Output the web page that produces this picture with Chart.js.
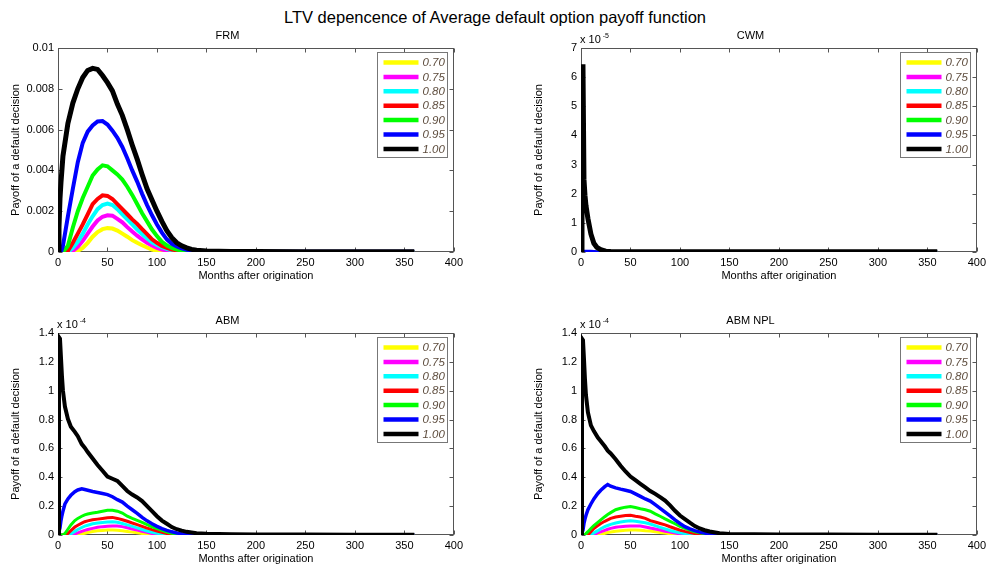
<!DOCTYPE html>
<html lang="en">
<head>
<meta charset="UTF-8">
<title>LTV depencence of Average default option payoff function</title>
<script src="https://cdn.jsdelivr.net/npm/chart.js"></script>
<style>
    body {
        margin: 0;
        width: 990px;
        height: 570px;
        overflow: hidden;
        position: relative;
        background: #fff;
        font-family: "Liberation Sans", Arial, sans-serif;
    }
    #title {
        position: absolute;
        left: 0;
        top: 8px;
        width: 990px;
        text-align: center;
        font-size: 16.5px;
        line-height: 18px;
        color: #000;
    }
    canvas { position: absolute; }
</style>
</head>
<body>
<div id="title">LTV depencence of Average default option payoff function</div>
<canvas id="frm" width="467" height="265" style="left:0;top:20px"></canvas>
<canvas id="cwm" width="467" height="265" style="left:523px;top:20px"></canvas>
<canvas id="abm" width="467" height="263" style="left:0;top:305px"></canvas>
<canvas id="npl" width="467" height="263" style="left:523px;top:305px"></canvas>
<script>
// LTV levels, same order in every panel
const ltvLabels = ['0.70', '0.75', '0.80', '0.85', '0.90', '0.95', '1.00'];
const ltvColors = ['#ffff00', '#ff00ff', '#00ffff', '#ff0000', '#00ff00', '#0000ff', '#000000'];
const xTicks = [0, 50, 100, 150, 200, 250, 300, 350, 400];

// FRM, values in units of 1e-3
const frmMonths = [0,1,2,3,5,10,15,20,25,30,35,40,45,50,55,60,65,70,75,80,85,90,95,100,105,110,115,120,125,130,135,140,150,175,200,250,300,360];
const frm070 = [0,0,0,0,0,0,0,0.05,0.2,0.45,0.75,0.98,1.12,1.17,1.15,1.05,0.9,0.75,0.58,0.45,0.33,0.22,0.12,0.06,0.03,0.01,0,0,0,0,0,0,0,0,0,0,0,0];
const frm075 = [0,0,0,0,0,0,0.05,0.25,0.55,0.9,1.25,1.55,1.73,1.8,1.78,1.62,1.45,1.22,1.0,0.8,0.62,0.45,0.32,0.2,0.12,0.07,0.04,0.02,0.01,0,0,0,0,0,0,0,0,0];
const frm080 = [0,0,0,0,0,0,0.2,0.5,0.9,1.35,1.75,2.1,2.3,2.37,2.3,2.1,1.85,1.6,1.35,1.1,0.88,0.66,0.48,0.35,0.24,0.15,0.09,0.05,0.03,0.02,0.01,0.01,0,0,0,0,0,0];
const frm085 = [0,0,0,0,0,0.05,0.45,0.9,1.35,1.85,2.35,2.6,2.78,2.75,2.6,2.35,2.1,1.85,1.6,1.38,1.12,0.88,0.62,0.45,0.3,0.2,0.12,0.08,0.05,0.03,0.02,0.01,0.01,0,0,0,0,0];
const frm090 = [0,0,0,0,0,0.3,1.2,2.0,2.65,3.2,3.75,4.05,4.25,4.2,4.0,3.8,3.55,3.2,2.8,2.35,1.9,1.5,1.1,0.78,0.5,0.32,0.2,0.12,0.07,0.05,0.03,0.02,0.01,0.01,0,0,0,0];
const frm095 = [0,0,0,0,0.3,1.75,3.1,4.4,5.35,5.9,6.2,6.4,6.42,6.25,5.95,5.6,5.15,4.6,4.0,3.45,2.85,2.3,1.8,1.35,0.95,0.62,0.4,0.27,0.18,0.11,0.07,0.05,0.03,0.02,0.01,0.01,0.01,0.01];
const frm100 = [0,1.2,2.6,3.4,4.7,6.3,7.3,8.0,8.55,8.9,9.0,8.95,8.65,8.3,7.9,7.25,6.7,6.0,5.25,4.55,3.8,3.1,2.55,2.0,1.5,1.05,0.7,0.45,0.3,0.2,0.13,0.09,0.05,0.03,0.02,0.01,0.01,0.01];

// CWM, values in units of 1e-5
const cwmMonths = [0,1,2,3,4,5,7,10,13,16,20,25,30,40,60,100,150,200,250,300,360];
const cwm070 = [0,0,0,0,0,0,0,0,0,0,0,0,0,0,0,0,0,0,0,0,0];
const cwm075 = [0,0,0,0,0,0,0,0,0,0,0,0,0,0,0,0,0,0,0,0,0];
const cwm080 = [0,0,0,0,0,0,0,0,0,0,0,0,0,0,0,0,0,0,0,0,0];
const cwm085 = [0,0,0,0,0,0,0,0,0,0,0,0,0,0,0,0,0,0,0,0,0];
const cwm090 = [0,0,0.01,0.01,0.01,0.01,0.01,0,0,0,0,0,0,0,0,0,0,0,0,0,0];
const cwm095 = [0,0,0.02,0.03,0.03,0.03,0.03,0.03,0.02,0.01,0,0,0,0,0,0,0,0,0,0,0];
const cwm100 = [0,6.36,6.36,2.5,1.95,1.6,1.15,0.62,0.3,0.16,0.08,0.03,0.02,0.01,0.01,0.01,0.01,0.01,0.01,0.01,0.01];

// ABM and ABM NPL, values in units of 1e-5
const abmMonths = [0,1,2,3,4,5,7,10,13,17,20,24,27,30,35,40,45,50,55,60,65,70,75,80,85,90,95,100,105,110,115,120,125,130,140,150,175,200,250,300,360];
const abm070 = [0,0,0,0,0,0,0,0,0,0,0,0.07,0.12,0.17,0.24,0.29,0.32,0.34,0.35,0.33,0.29,0.25,0.2,0.15,0.11,0.07,0.04,0.02,0,0,0,0,0,0,0,0,0,0,0,0,0];
const abm075 = [0,0,0,0,0,0,0,0,0,0.07,0.15,0.25,0.32,0.38,0.46,0.53,0.58,0.6,0.62,0.62,0.58,0.5,0.42,0.34,0.26,0.18,0.11,0.06,0.03,0.01,0,0,0,0,0,0,0,0,0,0,0];
const abm080 = [0,0,0,0,0,0,0,0,0.08,0.25,0.38,0.52,0.62,0.68,0.78,0.83,0.87,0.9,0.92,0.88,0.8,0.7,0.6,0.49,0.38,0.28,0.19,0.12,0.07,0.04,0.02,0.01,0,0,0,0,0,0,0,0,0];
const abm085 = [0,0,0,0,0,0,0,0.1,0.3,0.55,0.68,0.82,0.92,0.98,1.05,1.1,1.15,1.2,1.22,1.15,1.06,0.95,0.83,0.72,0.6,0.48,0.37,0.28,0.18,0.11,0.06,0.03,0.02,0.01,0,0,0,0,0,0,0];
const abm090 = [0,0,0,0,0,0,0.1,0.4,0.7,1.0,1.15,1.3,1.4,1.45,1.52,1.58,1.65,1.72,1.72,1.65,1.52,1.3,1.15,1.02,0.88,0.72,0.56,0.44,0.32,0.2,0.12,0.06,0.03,0.02,0.01,0,0,0,0,0,0];
const abm095 = [0,0,0.5,1.0,1.35,1.65,2.15,2.5,2.75,3.0,3.12,3.2,3.15,3.1,3.02,2.95,2.88,2.8,2.65,2.45,2.28,2.0,1.75,1.5,1.22,0.98,0.78,0.6,0.44,0.32,0.22,0.14,0.09,0.06,0.03,0.02,0.01,0.01,0.01,0.01,0.01];
const abm100 = [0,13.7,13.6,12.3,11.0,10.0,8.9,8.05,7.5,7.15,6.85,6.3,6.05,5.75,5.3,4.85,4.45,4.05,3.9,3.75,3.4,3.05,2.8,2.6,2.35,2.0,1.65,1.3,1.0,0.78,0.55,0.4,0.3,0.22,0.12,0.08,0.05,0.04,0.03,0.02,0.02];

const npl070 = [0,0,0,0,0,0,0,0,0,0,0,0.12,0.17,0.21,0.26,0.3,0.33,0.35,0.35,0.33,0.3,0.28,0.23,0.18,0.13,0.09,0.05,0.02,0,0,0,0,0,0,0,0,0,0,0,0,0];
const npl075 = [0,0,0,0,0,0,0,0,0,0.16,0.22,0.32,0.4,0.46,0.53,0.58,0.61,0.62,0.62,0.62,0.56,0.48,0.42,0.35,0.26,0.2,0.13,0.08,0.04,0.02,0,0,0,0,0,0,0,0,0,0,0];
const npl080 = [0,0,0,0,0,0,0,0,0.15,0.3,0.43,0.58,0.66,0.74,0.83,0.9,0.96,0.99,0.95,0.9,0.85,0.76,0.65,0.53,0.42,0.31,0.22,0.15,0.1,0.05,0.02,0.01,0,0,0,0,0,0,0,0,0];
const npl085 = [0,0,0,0,0,0,0,0.23,0.45,0.65,0.8,0.95,1.05,1.15,1.25,1.3,1.35,1.36,1.3,1.25,1.15,1.0,0.9,0.8,0.7,0.57,0.45,0.34,0.25,0.17,0.1,0.05,0.03,0.02,0.01,0,0,0,0,0,0];
const npl090 = [0,0,0,0,0,0.1,0.23,0.45,0.65,0.88,1.05,1.27,1.42,1.55,1.75,1.85,1.93,1.97,1.9,1.82,1.75,1.65,1.47,1.3,1.12,0.95,0.78,0.6,0.46,0.34,0.22,0.15,0.09,0.05,0.02,0.01,0,0,0,0,0];
const npl095 = [0,0,0.35,0.8,1.1,1.35,1.75,2.15,2.5,2.88,3.1,3.35,3.5,3.38,3.27,3.18,3.1,3.02,2.85,2.68,2.5,2.35,2.1,1.85,1.58,1.32,1.05,0.8,0.58,0.42,0.3,0.2,0.13,0.08,0.04,0.02,0.01,0.01,0.01,0.01,0.01];
const npl100 = [0,13.6,13.5,12.2,10.8,9.7,8.5,7.6,7.2,6.75,6.5,6.15,5.85,5.65,5.25,4.8,4.4,4.05,3.8,3.55,3.3,3.05,2.85,2.62,2.38,2.05,1.68,1.35,1.1,0.85,0.62,0.45,0.33,0.24,0.12,0.07,0.05,0.04,0.03,0.02,0.02];

const FONT = "'Liberation Sans', Arial, Helvetica, sans-serif";
Chart.defaults.font.family = FONT;
Chart.defaults.font.size = 11;
Chart.defaults.color = '#000';

/* box and inward ticks like matlab axes */
const matlabAxes = {
    id: 'matlabAxes',
    beforeDatasetsDraw(chart) {
        const {ctx, chartArea: a, scales: {x, y}} = chart;
        const L = Math.round(a.left) + 0.5, R = Math.round(a.right) - 0.5;
        const T = Math.round(a.top) + 0.5, B = Math.round(a.bottom) - 0.5;
        ctx.save();
        ctx.strokeStyle = '#555';
        ctx.lineWidth = 1;
        ctx.strokeRect(L, T, R - L, B - T);
        ctx.beginPath();
        x.ticks.forEach(t => {
            const px = Math.round(x.getPixelForValue(t.value)) + 0.5;
            ctx.moveTo(px, B); ctx.lineTo(px, B - 4);
            ctx.moveTo(px, T); ctx.lineTo(px, T + 4);
        });
        y.ticks.forEach(t => {
            const py = Math.round(y.getPixelForValue(t.value)) + 0.5;
            ctx.moveTo(L, py); ctx.lineTo(L + 4, py);
            ctx.moveTo(R, py); ctx.lineTo(R - 4, py);
        });
        ctx.stroke();
        ctx.restore();
    }
};

/* legend box inside the axes, top right */
const insideLegend = {
    id: 'insideLegend',
    afterDatasetsDraw(chart) {
        const {ctx, chartArea: a} = chart;
        const w = 70, h = 105;
        const left = Math.round(a.right - 7 - w) + 0.5;
        const top = Math.round(a.top + 4) + 0.5;
        ctx.save();
        ctx.fillStyle = '#fff';
        ctx.fillRect(left, top, w, h);
        ctx.strokeStyle = '#777';
        ctx.lineWidth = 1;
        ctx.strokeRect(left, top, w, h);
        ctx.font = 'italic 11.5px ' + FONT;
        ctx.textBaseline = 'middle';
        chart.data.datasets.forEach((ds, i) => {
            const yy = top + 10 + i * 14.4;
            ctx.strokeStyle = ds.borderColor;
            ctx.lineWidth = 4.5;
            ctx.beginPath();
            ctx.moveTo(left + 6, yy);
            ctx.lineTo(left + 41, yy);
            ctx.stroke();
            ctx.fillStyle = '#5e4d3e';
            ctx.fillText(ds.label, left + 45, yy + 0.5);
        });
        ctx.restore();
    }
};

/* "x 10^n" above the y axis */
const expLabel = {
    id: 'expLabel',
    afterDraw(chart, args, opts) {
        if (!opts.exp) return;
        const {ctx, chartArea: a} = chart;
        ctx.save();
        ctx.fillStyle = '#000';
        ctx.textBaseline = 'alphabetic';
        ctx.font = '11px ' + FONT;
        const base = 'x 10';
        ctx.fillText(base, a.left - 1, a.top - 5);
        const w = ctx.measureText(base).width;
        ctx.font = '7px ' + FONT;
        ctx.fillText(opts.exp, a.left + w + 1, a.top - 10);
        ctx.restore();
    }
};

function makePanel(id, title, months, series, unit, yMax, yStep, yFmt, exp, widths) {
    const datasets = series.map((vals, i) => ({
        label: ltvLabels[i],
        data: months.map((m, k) => ({x: m, y: vals[k] * unit})),
        borderColor: ltvColors[i],
        backgroundColor: ltvColors[i],
        borderWidth: widths[i],
        pointRadius: 0,
        tension: 0,
        fill: false,
        order: series.length - i  /* black on top */
    }));

    new Chart(document.getElementById(id), {
        type: 'line',
        data: {datasets: datasets},
        plugins: [matlabAxes, insideLegend, expLabel],
        options: {
            responsive: false,
            animation: false,
            devicePixelRatio: 1,
            layout: {padding: {left: 0, right: 12, top: 0, bottom: 0}},
            plugins: {
                legend: {display: false},
                tooltip: {enabled: false},
                title: {
                    display: true,
                    text: title,
                    color: '#000',
                    font: {size: 11, weight: 'normal'},
                    padding: {top: 9.4, bottom: 5.4}
                },
                expLabel: {exp: exp}
            },
            scales: {
                x: {
                    type: 'linear',
                    min: 0,
                    max: 400,
                    afterBuildTicks: s => { s.ticks = xTicks.map(v => ({value: v})); },
                    afterFit: s => { s.height = 33; },
                    grid: {display: false, drawTicks: false},
                    border: {display: false},
                    ticks: {autoSkip: false, maxRotation: 0, padding: 4, color: '#000'},
                    title: {
                        display: true,
                        text: 'Months after origination',
                        color: '#000',
                        font: {size: 11},
                        padding: {top: 0, bottom: 2}
                    }
                },
                y: {
                    type: 'linear',
                    min: 0,
                    max: yMax,
                    afterFit: s => { s.width = 58; },
                    grid: {display: false, drawTicks: false},
                    border: {display: false},
                    ticks: {stepSize: yStep, padding: 4, color: '#000', callback: yFmt},
                    title: {
                        display: true,
                        text: 'Payoff of a default decision',
                        color: '#000',
                        font: {size: 11},
                        padding: {top: 9, bottom: 0}
                    }
                }
            }
        }
    });
}

const wFrm = [4, 4, 4, 4, 4, 4, 5];
const wCwm = [3, 3, 3, 3, 3, 3, 5];
const wAbm = [3, 3, 3, 3, 3, 3.5, 4];

makePanel('frm', 'FRM', frmMonths,
    [frm070, frm075, frm080, frm085, frm090, frm095, frm100],
    1e-3, 0.01, 0.002, v => String(+v.toFixed(3)), null, wFrm);

makePanel('cwm', 'CWM', cwmMonths,
    [cwm070, cwm075, cwm080, cwm085, cwm090, cwm095, cwm100],
    1e-5, 7e-5, 1e-5, v => String(Math.round(v / 1e-5)), '-5', wCwm);

makePanel('abm', 'ABM', abmMonths,
    [abm070, abm075, abm080, abm085, abm090, abm095, abm100],
    1e-5, 1.4e-4, 2e-5, v => String(+(v / 1e-4).toFixed(1)), '-4', wAbm);

makePanel('npl', 'ABM NPL', abmMonths,
    [npl070, npl075, npl080, npl085, npl090, npl095, npl100],
    1e-5, 1.4e-4, 2e-5, v => String(+(v / 1e-4).toFixed(1)), '-4', wAbm);
</script>
</body>
</html>
